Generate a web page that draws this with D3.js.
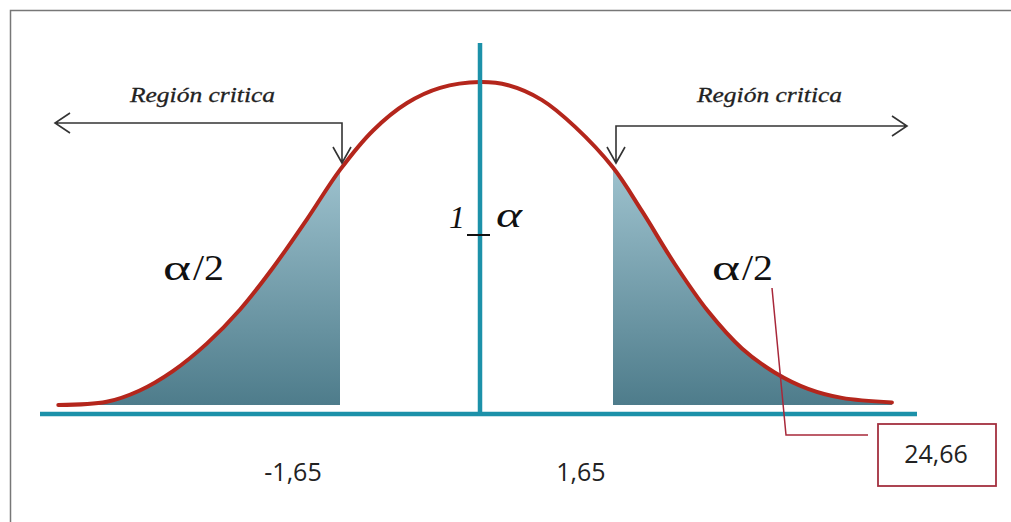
<!DOCTYPE html>
<html>
<head>
<meta charset="utf-8">
<script src="https://cdn.jsdelivr.net/npm/d3@7"></script>
<style>
  body { margin: 0; background: #fff; }
  svg { display: block; }
</style>
</head>
<body>
<div class="grafica"></div>
<script>
const width = 1011;
const height = 522;

// puntos de la curva (z, altura relativa al maximo)
const curveZ = [-4.97, -4.40, -4.01, -3.62, -3.22, -2.83, -2.44, -2.04, -1.65, -1.26, -0.86, -0.47, 0,
                0.35, 0.77, 1.18, 1.65, 2.01, 2.42, 2.83, 3.25, 3.66, 4.07, 4.49, 5.11];
const curveH = [0, 0.010, 0.045, 0.105, 0.19, 0.295, 0.425, 0.575, 0.728, 0.85, 0.935, 0.982, 1.0,
                0.99, 0.944, 0.861, 0.735, 0.60, 0.435, 0.29, 0.175, 0.10, 0.05, 0.022, 0.008];
const criticos = [-1.65, 1.65];
const etiquetasCriticas = ["-1,65", "1,65"];
const valorCaja = "24,66";
const textoRegion = "Región critica";

const serif = "Liberation Serif";
const sans = "Open Sans";

const svg = d3.select(".grafica").append("svg")
    .attr("width", width)
    .attr("height", height);

// escala polilineal, el centro no cae justo a la mitad en la figura
const x = d3.scaleLinear()
    .domain([criticos[0], 0, criticos[1]])
    .range([340, 480, 613]);
const y = d3.scaleLinear()
    .domain([0, 1])
    .range([405, 82]);

const puntos = curveZ.map(function (z, i) { return {z: z, h: curveH[i]}; });

// marco
svg.append("path")
    .attr("d", "M10.5,522 V10.5 H1011")
    .attr("fill", "none")
    .attr("stroke", "#777")
    .attr("stroke-width", 1.5);

const defs = svg.append("defs");
const grad = defs.append("linearGradient")
    .attr("id", "sombra")
    .attr("gradientUnits", "userSpaceOnUse")
    .attr("x1", 0).attr("y1", y(0.75))
    .attr("x2", 0).attr("y2", y(0));
grad.append("stop").attr("offset", "0%").attr("stop-color", "#9fc3cf");
grad.append("stop").attr("offset", "100%").attr("stop-color", "#4e7c8b");

const suave = d3.curveCatmullRom.alpha(0.5);

const area = d3.area()
    .x(function (d) { return x(d.z); })
    .y0(y(0))
    .y1(function (d) { return y(d.h); })
    .curve(suave);

svg.append("path")
    .datum(puntos.filter(function (d) { return d.z <= criticos[0]; }))
    .attr("d", area)
    .attr("fill", "url(#sombra)");
svg.append("path")
    .datum(puntos.filter(function (d) { return d.z >= criticos[1]; }))
    .attr("d", area)
    .attr("fill", "url(#sombra)");

// curva
const linea = d3.line()
    .x(function (d) { return x(d.z); })
    .y(function (d) { return y(d.h); })
    .curve(suave);

svg.append("path")
    .datum(puntos)
    .attr("d", linea)
    .attr("fill", "none")
    .attr("stroke", "#b4261c")
    .attr("stroke-width", 4)
    .attr("stroke-linecap", "round");

// ejes
const azul = "#1c91a9";
svg.append("line")
    .attr("x1", 40).attr("x2", 917)
    .attr("y1", 414).attr("y2", 414)
    .attr("stroke", azul).attr("stroke-width", 4.5);
svg.append("line")
    .attr("x1", x(0)).attr("x2", x(0))
    .attr("y1", 43).attr("y2", 416)
    .attr("stroke", azul).attr("stroke-width", 4.5);

// 1 - alfa
svg.append("line")
    .attr("x1", x(0) - 13).attr("x2", x(0) + 10)
    .attr("y1", 235).attr("y2", 235)
    .attr("stroke", "#111").attr("stroke-width", 2);
svg.append("text")
    .attr("x", x(0) - 23).attr("y", 228)
    .attr("text-anchor", "middle")
    .attr("font-family", serif)
    .attr("font-style", "italic")
    .attr("font-size", 32)
    .attr("fill", "#111")
    .text("1");
svg.append("text")
    .attr("x", x(0) + 16).attr("y", 227)
    .attr("font-family", serif)
    .attr("font-style", "italic")
    .attr("font-size", 36)
    .attr("textLength", 26)
    .attr("lengthAdjust", "spacingAndGlyphs")
    .attr("fill", "#111")
    .text("α");

// alfa/2, la alfa es mas ancha que en la fuente
const alfa2 = svg.selectAll(".alfa2")
    .data([163, 712])
    .enter().append("g")
    .attr("class", "alfa2")
    .attr("transform", function (d) { return "translate(" + d + ",280)"; });
alfa2.append("text")
    .attr("font-family", serif)
    .attr("font-size", 36)
    .attr("textLength", 28)
    .attr("lengthAdjust", "spacingAndGlyphs")
    .attr("fill", "#111")
    .text("α");
alfa2.append("text")
    .attr("x", 30)
    .attr("font-family", serif)
    .attr("font-size", 36)
    .attr("textLength", 31)
    .attr("lengthAdjust", "spacingAndGlyphs")
    .attr("fill", "#111")
    .text("/2");

// flechas region critica
const flechas = [
    {xc: x(criticos[0]) + 2, yh: 123, fin: 55, texto: 130},
    {xc: x(criticos[1]) + 3, yh: 126, fin: 907, texto: 697}
];
flechas.forEach(function (f) {
    const s = f.fin < f.xc ? 1 : -1;
    svg.append("path")
        .attr("d", "M" + f.xc + "," + 163 + " V" + f.yh + " H" + f.fin +
            " M" + (f.fin + 15 * s) + "," + (f.yh - 10) + " L" + f.fin + "," + f.yh + " L" + (f.fin + 15 * s) + "," + (f.yh + 10) +
            " M" + (f.xc - 9) + "," + 147 + " L" + f.xc + "," + 163 + " L" + (f.xc + 9) + "," + 147)
        .attr("fill", "none")
        .attr("stroke", "#333")
        .attr("stroke-width", 1.6);
    svg.append("text")
        .attr("x", f.texto).attr("y", 102)
        .attr("font-family", serif)
        .attr("font-style", "italic")
        .attr("font-size", 22)
        .attr("textLength", 145)
        .attr("lengthAdjust", "spacingAndGlyphs")
        .attr("fill", "#222")
        .attr("stroke", "#222")
        .attr("stroke-width", 0.3)
        .text(textoRegion);
});

// valores criticos
svg.selectAll(".critico")
    .data(criticos)
    .enter().append("text")
    .attr("class", "critico")
    .attr("x", function (d, i) { return i === 0 ? x(d) - 47 : x(d) - 32; })
    .attr("y", 481)
    .attr("text-anchor", "middle")
    .attr("font-family", sans)
    .attr("font-size", 25)
    .attr("fill", "#222")
    .text(function (d, i) { return etiquetasCriticas[i]; });

// llamada con el valor
svg.append("path")
    .attr("d", "M772,288 L786,435 H868")
    .attr("fill", "none")
    .attr("stroke", "#a8283a")
    .attr("stroke-width", 1.5);
svg.append("rect")
    .attr("x", 878).attr("y", 424)
    .attr("width", 118).attr("height", 62)
    .attr("fill", "#fff")
    .attr("stroke", "#a3303f")
    .attr("stroke-width", 1.8);
svg.append("text")
    .attr("x", 936).attr("y", 463)
    .attr("text-anchor", "middle")
    .attr("font-family", sans)
    .attr("font-size", 25)
    .attr("fill", "#222")
    .text(valorCaja);
</script>
</body>
</html>
